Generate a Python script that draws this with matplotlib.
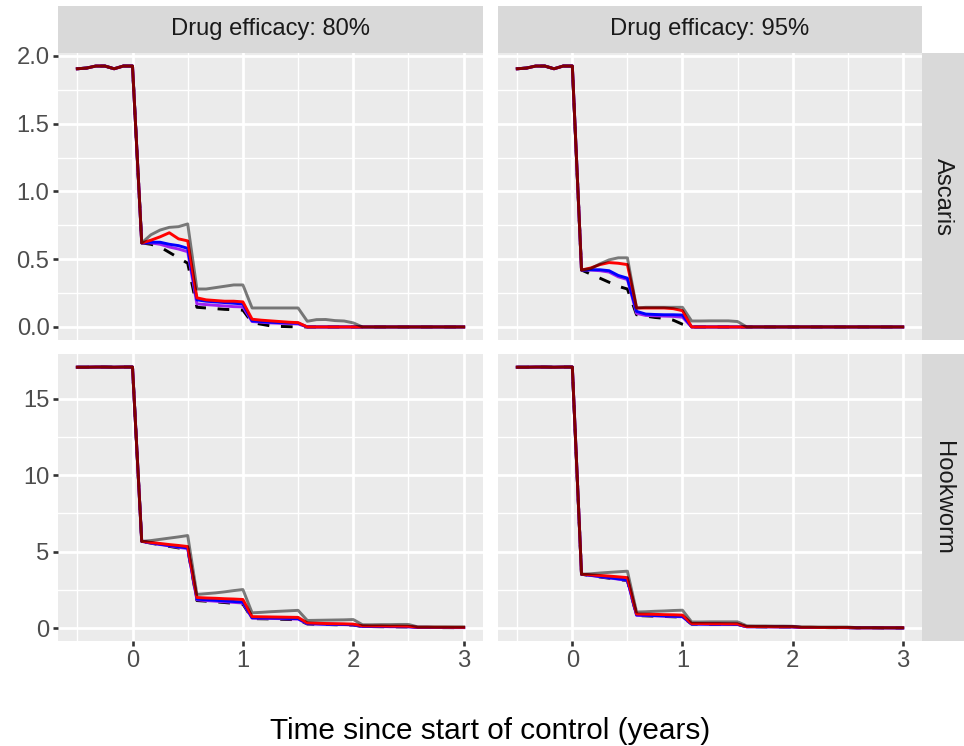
import numpy as np
import matplotlib
matplotlib.use("Agg")
import matplotlib.pyplot as plt

plt.rcParams['font.family'] = ['Liberation Sans', 'DejaVu Sans']

W, H = 964, 746

# monthly time grid, -6 months to 36 months after start of control
months = np.arange(-6, 37)
time = months / 12.0

# pre-control values (t = -0.5 ... 0)
pre_asc = [1.905, 1.91, 1.925, 1.925, 1.905, 1.925, 1.925]
pre_hook = [17.05, 17.05, 17.06, 17.06, 17.05, 17.06, 17.06]

# ---- Ascaris, 80% efficacy (months 1..36)
asc80_black = [0.62, 0.61, 0.59, 0.55, 0.51, 0.47,
               0.145, 0.14, 0.135, 0.13, 0.127, 0.124,
               0.032, 0.02, 0.008, 0.004, 0.002, 0.0] + [0.0] * 18
asc80_purple = [0.62, 0.62, 0.61, 0.59, 0.575, 0.555,
                0.17, 0.165, 0.16, 0.155, 0.15, 0.148,
                0.04, 0.035, 0.03, 0.027, 0.025, 0.022] + [0.0] * 18
asc80_blue = [0.62, 0.625, 0.625, 0.61, 0.60, 0.58,
              0.20, 0.19, 0.185, 0.18, 0.175, 0.17,
              0.045, 0.04, 0.035, 0.032, 0.03, 0.028] + [0.0] * 18
asc80_red = [0.62, 0.64, 0.665, 0.695, 0.65, 0.635,
             0.215, 0.20, 0.195, 0.19, 0.19, 0.185,
             0.057, 0.05, 0.045, 0.04, 0.035, 0.032] + [0.0] * 18
asc80_gray = [0.62, 0.68, 0.715, 0.735, 0.74, 0.76,
              0.28, 0.28, 0.29, 0.30, 0.31, 0.31,
              0.14, 0.14, 0.14, 0.14, 0.14, 0.14,
              0.042, 0.054, 0.055, 0.047, 0.044, 0.03] + [0.0] * 12

# ---- Ascaris, 95% efficacy
asc95_black = [0.42, 0.39, 0.36, 0.33, 0.30, 0.28,
               0.09, 0.08, 0.07, 0.064, 0.05, 0.02] + [0.0] * 24
asc95_purple = [0.42, 0.42, 0.415, 0.405, 0.37, 0.35,
                0.10, 0.085, 0.082, 0.08, 0.078, 0.072] + [0.0] * 24
asc95_blue = [0.42, 0.422, 0.422, 0.415, 0.38, 0.36,
              0.115, 0.095, 0.092, 0.09, 0.09, 0.088] + [0.0] * 24
asc95_red = [0.42, 0.435, 0.46, 0.475, 0.47, 0.46,
             0.14, 0.14, 0.14, 0.14, 0.135, 0.12] + [0.0] * 24
asc95_gray = [0.42, 0.43, 0.465, 0.495, 0.51, 0.51,
              0.14, 0.145, 0.145, 0.145, 0.145, 0.145,
              0.044, 0.044, 0.045, 0.045, 0.045, 0.04] + [0.0] * 18

# ---- Hookworm, 80% efficacy
hook80_black = [5.67, 5.55, 5.44, 5.34, 5.24, 5.15,
                1.80, 1.76, 1.72, 1.67, 1.62, 1.57,
                0.62, 0.61, 0.60, 0.58, 0.56, 0.55,
                0.27, 0.25, 0.24, 0.22, 0.21, 0.20,
                0.10, 0.10, 0.09, 0.09, 0.08, 0.08,
                0.04, 0.04, 0.03, 0.03, 0.03, 0.03]
hook80_purple = [5.67, 5.56, 5.46, 5.37, 5.28, 5.20,
                 1.85, 1.80, 1.76, 1.72, 1.68, 1.64,
                 0.65, 0.64, 0.63, 0.62, 0.60, 0.59,
                 0.28, 0.27, 0.25, 0.24, 0.23, 0.21,
                 0.11, 0.10, 0.10, 0.09, 0.09, 0.09,
                 0.04, 0.04, 0.04, 0.04, 0.03, 0.03]
hook80_blue = [5.67, 5.58, 5.48, 5.40, 5.32, 5.24,
               1.90, 1.85, 1.82, 1.78, 1.74, 1.70,
               0.68, 0.67, 0.66, 0.65, 0.63, 0.62,
               0.30, 0.28, 0.26, 0.25, 0.24, 0.22,
               0.12, 0.11, 0.11, 0.10, 0.10, 0.09,
               0.05, 0.05, 0.04, 0.04, 0.04, 0.04]
hook80_red = [5.67, 5.60, 5.53, 5.46, 5.40, 5.33,
              2.00, 1.97, 1.95, 1.92, 1.90, 1.87,
              0.75, 0.74, 0.73, 0.72, 0.71, 0.70,
              0.34, 0.32, 0.30, 0.29, 0.28, 0.26,
              0.15, 0.14, 0.14, 0.13, 0.13, 0.12,
              0.06, 0.06, 0.055, 0.055, 0.05, 0.05]
hook80_gray = [5.67, 5.72, 5.80, 5.88, 5.96, 6.05,
               2.20, 2.25, 2.30, 2.37, 2.45, 2.52,
               1.00, 1.03, 1.07, 1.10, 1.13, 1.16,
               0.50, 0.51, 0.52, 0.53, 0.54, 0.56,
               0.22, 0.22, 0.23, 0.23, 0.24, 0.24,
               0.08, 0.08, 0.08, 0.08, 0.08, 0.08]

# ---- Hookworm, 95% efficacy
hook95_black = [3.52, 3.43, 3.34, 3.26, 3.18, 3.10,
                0.82, 0.80, 0.78, 0.76, 0.74, 0.72,
                0.26, 0.26, 0.25, 0.25, 0.24, 0.24,
                0.09, 0.09, 0.08, 0.08, 0.08, 0.08,
                0.04, 0.04, 0.04, 0.03, 0.03, 0.03,
                0.02, 0.02, 0.02, 0.01, 0.01, 0.01]
hook95_purple = [3.52, 3.44, 3.36, 3.28, 3.20, 3.12,
                 0.84, 0.82, 0.80, 0.78, 0.76, 0.74,
                 0.27, 0.26, 0.26, 0.25, 0.25, 0.24,
                 0.09, 0.09, 0.09, 0.08, 0.08, 0.08,
                 0.04, 0.04, 0.04, 0.04, 0.03, 0.03,
                 0.02, 0.02, 0.02, 0.02, 0.01, 0.01]
hook95_blue = [3.52, 3.45, 3.38, 3.30, 3.22, 3.15,
               0.86, 0.84, 0.82, 0.80, 0.78, 0.76,
               0.27, 0.27, 0.26, 0.26, 0.25, 0.25,
               0.09, 0.09, 0.09, 0.09, 0.08, 0.08,
               0.04, 0.04, 0.04, 0.04, 0.04, 0.03,
               0.02, 0.02, 0.02, 0.02, 0.02, 0.01]
hook95_red = [3.52, 3.48, 3.44, 3.40, 3.35, 3.30,
              0.92, 0.91, 0.90, 0.88, 0.87, 0.85,
              0.30, 0.30, 0.29, 0.29, 0.28, 0.28,
              0.10, 0.10, 0.10, 0.09, 0.09, 0.09,
              0.05, 0.05, 0.04, 0.04, 0.04, 0.04,
              0.02, 0.02, 0.02, 0.02, 0.02, 0.02]
hook95_gray = [3.52, 3.55, 3.60, 3.64, 3.68, 3.72,
               1.05, 1.07, 1.10, 1.12, 1.15, 1.17,
               0.40, 0.40, 0.41, 0.41, 0.41, 0.41,
               0.15, 0.14, 0.14, 0.13, 0.13, 0.12,
               0.08, 0.08, 0.07, 0.07, 0.07, 0.07,
               0.03, 0.03, 0.03, 0.02, 0.02, 0.02]

col_labels = ['Drug efficacy: 80%', 'Drug efficacy: 95%']
row_labels = ['Ascaris', 'Hookworm']
x_ticks = [0, 1, 2, 3]
y_ticks = [[0.0, 0.5, 1.0, 1.5, 2.0], [0, 5, 10, 15]]
y_ticklabels = [['0.0', '0.5', '1.0', '1.5', '2.0'], ['0', '5', '10', '15']]

panels = {
    (0, 0): (pre_asc, asc80_black, asc80_purple, asc80_blue, asc80_red, asc80_gray),
    (0, 1): (pre_asc, asc95_black, asc95_purple, asc95_blue, asc95_red, asc95_gray),
    (1, 0): (pre_hook, hook80_black, hook80_purple, hook80_blue, hook80_red, hook80_gray),
    (1, 1): (pre_hook, hook95_black, hook95_purple, hook95_blue, hook95_red, hook95_gray),
}

fig = plt.figure(figsize=(W / 100, H / 100), dpi=100)


def rect(x0, y0, x1, y1):
    return [x0 / W, 1 - y1 / H, (x1 - x0) / W, (y1 - y0) / H]


col_x = [(58, 483), (498, 922)]
row_y = [(53, 340), (354, 641)]
strip_top = 6
strip_right = (922, 964)

tick_size = 17.1
strip_size = 17.1
title_size = 21.4
line_w = 2.1

for (r, c), (pre, blk, pur, blu, red, gry) in panels.items():
    x0, x1 = col_x[c]
    y0, y1 = row_y[r]
    ax = fig.add_axes(rect(x0, y0, x1, y1))
    ax.set_facecolor('#EBEBEB')
    for s in ax.spines.values():
        s.set_visible(False)

    ax.plot(time, pre + blk, color='black', lw=line_w, dashes=(4, 4),
            dash_capstyle='butt', zorder=3)
    ax.plot(time, pre + pur, color='#A020F0', lw=line_w, zorder=4)
    ax.plot(time, pre + blu, color='#0000FF', lw=line_w, zorder=5)
    ax.plot(time, pre + red, color='#FF0000', lw=line_w, zorder=6)
    ax.plot(time, pre + gry, color='black', alpha=0.5, lw=line_w, zorder=7)

    # ggplot-like limits with 5% expansion
    all_y = np.concatenate([np.array(pre + s) for s in
                            (panels[(r, 0)][1:] + panels[(r, 1)][1:])])
    ymin, ymax = all_y.min(), all_y.max()
    pad = 0.05 * (ymax - ymin)
    ax.set_ylim(ymin - pad, ymax + pad)
    xpad = 0.05 * (time.max() - time.min())
    ax.set_xlim(time.min() - xpad, time.max() + xpad)

    ax.set_xticks(x_ticks)
    ax.set_xticks([-0.5, 0.5, 1.5, 2.5], minor=True)
    yt = y_ticks[r]
    ax.set_yticks(yt)
    ax.set_yticks([(a + b) / 2 for a, b in zip(yt[:-1], yt[1:])], minor=True)
    ax.grid(which='major', color='white', lw=1.95)
    ax.grid(which='minor', color='white', lw=0.98)
    ax.set_axisbelow(True)

    ax.tick_params(which='minor', length=0)
    ax.tick_params(which='major', length=3.8, width=1.9, color='#333333',
                   labelsize=tick_size, labelcolor='#4D4D4D', pad=2.4)
    if c == 0:
        ax.set_yticklabels(y_ticklabels[r])
    else:
        ax.tick_params(axis='y', which='major', length=0, labelleft=False)
    if r == 1:
        ax.set_xticklabels([str(v) for v in x_ticks])
    else:
        ax.tick_params(axis='x', which='major', length=0, labelbottom=False)

# column strips
for c, lab in enumerate(col_labels):
    x0, x1 = col_x[c]
    sa = fig.add_axes(rect(x0, strip_top, x1, row_y[0][0]))
    sa.set_facecolor('#D9D9D9')
    sa.set_xticks([])
    sa.set_yticks([])
    for s in sa.spines.values():
        s.set_visible(False)
    sa.text(0.5, 0.5, lab, ha='center', va='center', fontsize=strip_size,
            color='#1A1A1A', transform=sa.transAxes)

# row strips
for r, lab in enumerate(row_labels):
    y0, y1 = row_y[r]
    sa = fig.add_axes(rect(strip_right[0], y0, strip_right[1], y1))
    sa.set_facecolor('#D9D9D9')
    sa.set_xticks([])
    sa.set_yticks([])
    for s in sa.spines.values():
        s.set_visible(False)
    sa.text(0.5, 0.5, lab, ha='center', va='center', fontsize=strip_size,
            color='#1A1A1A', rotation=-90, transform=sa.transAxes)

fig.text(490 / W, 1 - 731 / H, 'Time since start of control (years)',
         ha='center', va='center', fontsize=title_size, color='black')

fig.savefig('out.png', dpi=100)
